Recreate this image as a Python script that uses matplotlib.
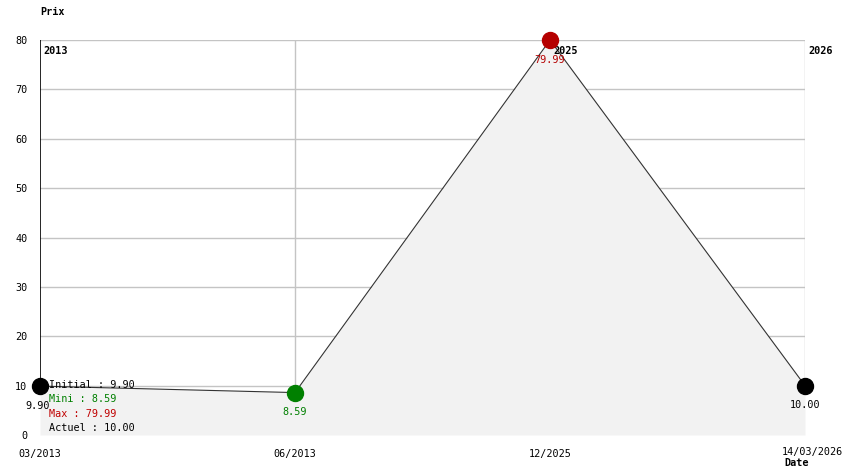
import matplotlib
matplotlib.use('Agg')
import matplotlib.pyplot as plt

# data
dates = ['03/2013', '06/2013', '12/2025', '14/03/2026']
prices = [9.90, 8.59, 79.99, 10.00]
point_colors = ['#000000', '#008000', '#b50000', '#000000']
year_labels = {0: '2013', 2: '2025', 3: '2026'}
summary_lines = ['Initial : 9.90', 'Mini : 8.59', 'Max : 79.99', 'Actuel : 10.00']
summary_colors = ['#000000', '#008000', '#c00000', '#000000']
y_ticks = [0, 10, 20, 30, 40, 50, 60, 70, 80]

W, H = 844, 474
FS = 7.3
plt.rcParams['font.family'] = 'DejaVu Sans Mono'

fig = plt.figure(figsize=(W / 100, H / 100), dpi=100)
ax = fig.add_axes([40 / W, (H - 435) / H, 765 / W, 395 / H])

xs = list(range(len(prices)))
ax.set_xlim(0, len(prices) - 1)
ax.set_ylim(0, 80)

# grid
for y in y_ticks[1:]:
    ax.axhline(y, color='#c4c4c4', lw=1, zorder=0)
for x in xs[1:]:
    ax.axvline(x, color='#c4c4c4', lw=1, zorder=0)

ax.fill_between(xs, prices, 0, color='#f2f2f2', lw=0, zorder=1)
ax.vlines(0, prices[0], 80, color='black', lw=1.2, zorder=2)
ax.plot(xs, prices, color='#333333', lw=0.8, zorder=3)

for x, v, c in zip(xs, prices, point_colors):
    ax.plot(x, v, 'o', color=c, ms=11.5, mec=c, zorder=4, clip_on=False)
    dx = -2 if x == 0 else 0
    ax.annotate(f'{v:.2f}', (x, v), xytext=(dx, -10.5), textcoords='offset points',
                ha='center', va='top', fontsize=FS, color=c, zorder=5,
                annotation_clip=False)

for x, lab in year_labels.items():
    ax.annotate(lab, (x, 80), xytext=(2.5, -4), textcoords='offset points',
                ha='left', va='top', fontsize=FS, fontweight='bold', zorder=3,
                annotation_clip=False)

for s in ax.spines.values():
    s.set_visible(False)

ax.set_yticks(y_ticks)
ax.set_yticklabels([str(t) for t in y_ticks], fontsize=FS)
ax.set_xticks(xs[:-1])
ax.set_xticklabels(dates[:-1], fontsize=FS)
ax.tick_params(axis='both', length=0)
ax.tick_params(axis='y', pad=9)
ax.tick_params(axis='x', pad=10)
# last date label sits against the right edge
fig.text(843 / W, 1 - 452 / H, dates[-1], fontsize=FS, ha='right', va='center')

fig.text(40 / W, 1 - 12 / H, 'Prix', fontsize=FS, fontweight='bold', va='center')
fig.text(784 / W, 1 - 463 / H, 'Date', fontsize=FS, fontweight='bold', va='center')

for i, (line, c) in enumerate(zip(summary_lines, summary_colors)):
    fig.text(49 / W, 1 - (385 + 14.3 * i) / H, line, fontsize=FS, color=c,
             va='center', zorder=6)

fig.savefig('out.png', dpi=100)
